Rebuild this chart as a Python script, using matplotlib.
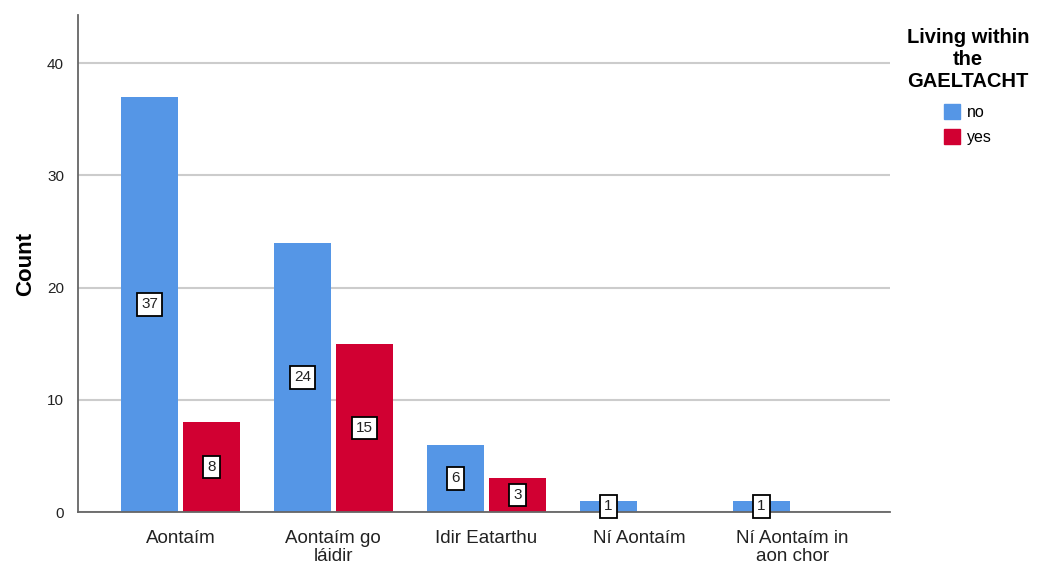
import numpy as np
import matplotlib.pyplot as plt
from matplotlib.patches import Patch

plt.rcParams['font.family'] = ['Liberation Sans', 'DejaVu Sans']

categories = ["Aontaím", "Aontaím go\nláidir", "Idir Eatarthu", "Ní Aontaím", "Ní Aontaím in\naon chor"]
no_counts = [37, 24, 6, 1, 1]
yes_counts = [8, 15, 3, 0, 0]

blue = "#5596e6"
red = "#d10032"

fig = plt.figure(figsize=(10.45, 5.66), dpi=100)
ax = fig.add_axes([78 / 1045, 54 / 566, 812 / 1045, 497 / 566])

x = np.arange(len(categories))
w = 0.373
off = 0.203

for xi, n, y in zip(x, no_counts, yes_counts):
    if n > 0:
        ax.bar(xi - off, n, w, color=blue, zorder=2)
        ax.text(xi - off, n / 2, str(n), ha='center', va='center', fontsize=11, zorder=3,
                color='#222222',
                bbox=dict(boxstyle='square,pad=0.28', fc='white', ec='black', lw=1.3))
    if y > 0:
        ax.bar(xi + off, y, w, color=red, zorder=2)
        ax.text(xi + off, y / 2, str(y), ha='center', va='center', fontsize=11, zorder=3,
                color='#222222',
                bbox=dict(boxstyle='square,pad=0.28', fc='white', ec='black', lw=1.3))

ax.set_xlim(-0.67, 4.64)
ax.set_ylim(0, 44.3)
ax.set_yticks([0, 10, 20, 30, 40])
ax.set_xticks(x)
ax.set_xticklabels(categories, fontsize=13.5, color='#222222', linespacing=1.1)
ax.tick_params(axis='y', labelsize=11, colors='#222222', length=0, pad=10)
ax.tick_params(axis='x', length=0, pad=13)
ax.yaxis.grid(True, color='#cccccc', lw=1.5, zorder=0)
ax.set_axisbelow(True)
for s in ['top', 'right']:
    ax.spines[s].set_visible(False)
for s in ['left', 'bottom']:
    ax.spines[s].set_color('#666666')
    ax.spines[s].set_linewidth(1.3)

ax.set_ylabel("Count", fontsize=16, fontweight='bold', labelpad=8)

handles = [Patch(color=blue, label='no'), Patch(color=red, label='yes')]
leg = fig.legend(handles=handles, loc='upper center', bbox_to_anchor=(968 / 1045, 1 - 14 / 566),
                 title="Living within\nthe\nGAELTACHT", frameon=False, fontsize=11.5,
                 handlelength=1.0, handleheight=1.1, handletextpad=0.4, labelspacing=0.55)
leg.get_title().set_fontweight('bold')
leg.get_title().set_fontsize(14.5)
leg.get_title().set_multialignment('center')
leg._legend_box.sep = 9

fig.savefig("out.png", dpi=100)
